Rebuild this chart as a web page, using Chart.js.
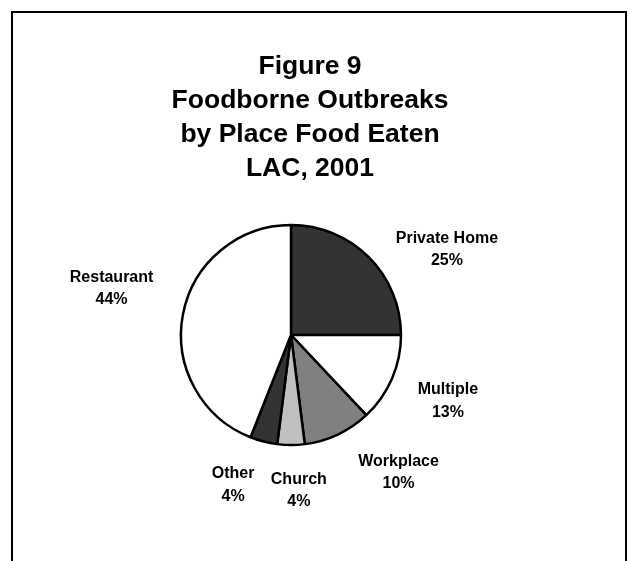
<!DOCTYPE html>
<html>
<head>
<meta charset="utf-8">
<script src="https://cdn.jsdelivr.net/npm/chart.js@4/dist/chart.umd.min.js"></script>
<style>
  html, body { margin: 0; padding: 0; background: #ffffff; }
  #wrap { width: 628px; height: 561px; }
</style>
</head>
<body>
<div id="wrap"><canvas id="c" width="628" height="561"></canvas></div>
<script>
// ---- data ----
const titleLines = ["Figure 9", "Foodborne Outbreaks", "by Place Food Eaten", "LAC, 2001"];
const categories = ["Private Home", "Multiple", "Workplace", "Church", "Other", "Restaurant"];
const values = [25, 13, 10, 4, 4, 44];
const sliceColors = ["#333333", "#ffffff", "#808080", "#c0c0c0", "#333333", "#ffffff"];

// ---- label layout (radial distance factor, angle nudge in degrees) ----
const labelDist = [1.622, 1.543, 1.578, 1.405, 1.450, 1.688];
const labelNudge = [15.9, -1.0, -13.1, -2.9, 6.9, 4.1];

const FONT = '"Liberation Sans", Arial, Helvetica, sans-serif';

const framePlugin = {
  id: 'frame',
  beforeDraw(chart) {
    const ctx = chart.ctx;
    ctx.save();
    ctx.fillStyle = '#ffffff';
    ctx.fillRect(0, 0, chart.width, chart.height);
    ctx.strokeStyle = '#000000';
    ctx.lineWidth = 2;
    ctx.beginPath();
    ctx.moveTo(12, chart.height);
    ctx.lineTo(12, 12);
    ctx.lineTo(626, 12);
    ctx.lineTo(626, chart.height);
    ctx.stroke();
    ctx.restore();
  }
};

const titlePlugin = {
  id: 'customTitle',
  afterDraw(chart) {
    const ctx = chart.ctx;
    ctx.save();
    ctx.fillStyle = '#000000';
    ctx.font = 'bold 26.5px ' + FONT;
    ctx.textAlign = 'center';
    ctx.textBaseline = 'alphabetic';
    titleLines.forEach((t, i) => ctx.fillText(t, 310, 73.5 + i * 34.3));
    ctx.restore();
  }
};

const labelPlugin = {
  id: 'sliceLabels',
  afterDatasetsDraw(chart) {
    const ctx = chart.ctx;
    const meta = chart.getDatasetMeta(0);
    const ds = chart.data.datasets[0].data;
    const total = ds.reduce((a, b) => a + b, 0);
    ctx.save();
    ctx.fillStyle = '#000000';
    ctx.font = 'bold 16px ' + FONT;
    ctx.textAlign = 'center';
    ctx.textBaseline = 'alphabetic';
    meta.data.forEach((arc, i) => {
      const p = arc.getProps(['x', 'y', 'startAngle', 'endAngle', 'outerRadius'], true);
      const mid = (p.startAngle + p.endAngle) / 2 + labelNudge[i] * Math.PI / 180;
      const d = p.outerRadius * labelDist[i];
      const lx = p.x + d * Math.cos(mid);
      const ly = p.y + d * Math.sin(mid);
      const pct = Math.round(ds[i] / total * 100) + '%';
      ctx.fillText(chart.data.labels[i], lx, ly - 5.5);
      ctx.fillText(pct, lx, ly + 17);
    });
    ctx.restore();
  }
};

new Chart(document.getElementById('c'), {
  type: 'pie',
  data: {
    labels: categories,
    datasets: [{
      data: values,
      backgroundColor: sliceColors,
      borderColor: '#000000',
      borderWidth: 2.5
    }]
  },
  options: {
    responsive: false,
    animation: false,
    radius: 110,
    layout: { padding: { left: 160, right: 206, top: 205, bottom: 96 } },
    plugins: {
      legend: { display: false },
      title: { display: false },
      tooltip: { enabled: false }
    }
  },
  plugins: [framePlugin, titlePlugin, labelPlugin]
});
</script>
</body>
</html>
